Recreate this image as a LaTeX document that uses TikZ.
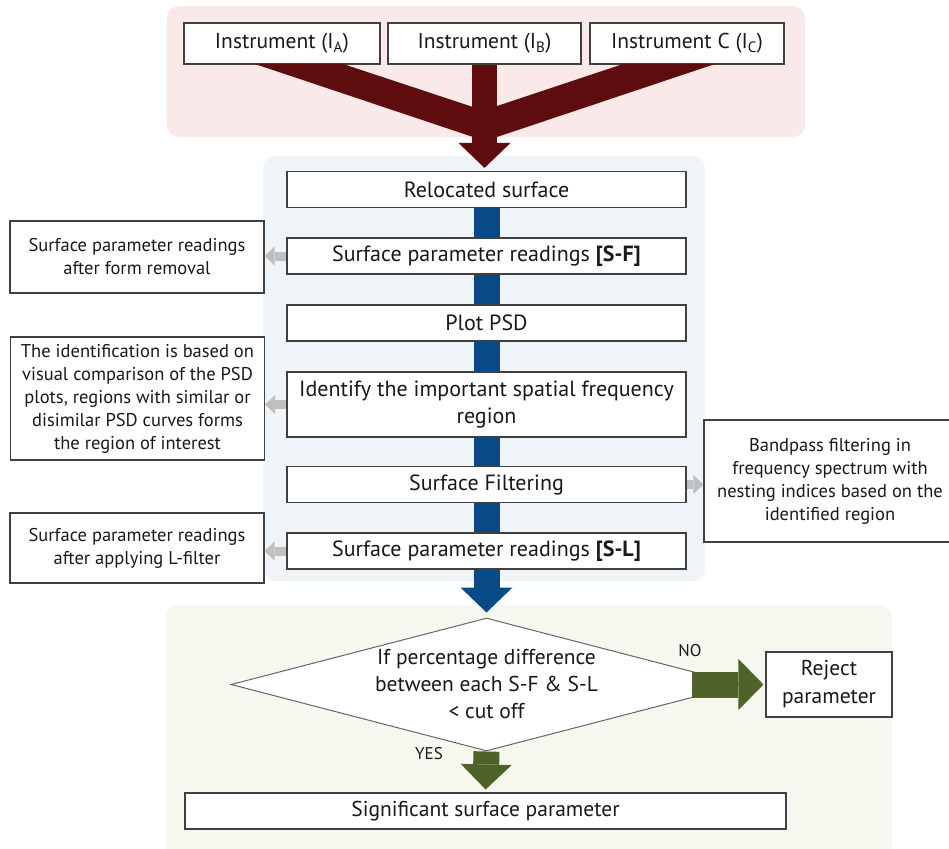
\documentclass[tikz,border=0pt]{standalone}
\usepackage{fontspec}
\setmainfont{PT Sans}
\usetikzlibrary{positioning,calc,arrows.meta,shapes.geometric}

\begin{document}
\begin{tikzpicture}[x=1pt,y=-1pt]
	\definecolor{redarr}{RGB}{94,12,14}
	\definecolor{bluearr}{RGB}{8,74,134}
	\definecolor{greenarr}{RGB}{79,98,40}
	\definecolor{pinkbg}{RGB}{250,233,233}
	\definecolor{bluebg}{RGB}{239,244,249}
	\definecolor{greenbg}{RGB}{246,247,239}
	\definecolor{boxline}{RGB}{64,64,64}
	\definecolor{hintarr}{RGB}{191,191,191}
	\tikzset{
		box/.style={
			draw=boxline,
			line width=1.1pt,
			fill=white,
			inner sep=0pt,
			align=center,
			text=black!90,
			font=\fontsize{21.5}{27}\selectfont
		},
		mainbox/.style={box, minimum width=399, minimum height=36, font=\fontsize{22}{27}\selectfont},
		note/.style={box, minimum width=254, font=\fontsize{18.5}{23}\selectfont},
		decision/.style={
			diamond,
			draw=boxline!80,
			line width=1pt,
			fill=white,
			inner sep=0pt,
			minimum width=511,
			minimum height=133
		},
		panel/.style={rounded corners=12pt},
		blueshaft/.style={draw=bluearr, line width=26pt},
		bluearrow/.style={blueshaft, -{Triangle[width=52pt,length=25pt,line width=0pt]}},
		redarrow/.style={draw=redarr, line width=25pt, -{Triangle[width=52pt,length=25pt,line width=0pt]}},
		greenarrow/.style={draw=greenarr, line width=26pt, -{Triangle[width=51pt,length=25pt,line width=0pt]}},
		hint/.style={draw=hintarr, line width=9pt, -{Triangle[width=19pt,length=10pt,line width=0pt]}},
		tag/.style={font=\fontsize{17}{20}\selectfont, text=black!90}
	}
	\useasboundingbox (0,0) rectangle (949,848);
	
	% ======= background panels =======
	\fill[pinkbg, panel] (167,6) rectangle (805,137);
	\fill[bluebg, panel] (263,156) rectangle (705,581);
	\fill[greenbg, panel] (166,605) rectangle (892,880);
	
	% ======= instruments =======
	\node[box, minimum width=196, minimum height=41] (iA) at (282,43.5) {Instrument (I\textsubscript{A})};
	\node[box, minimum width=193, minimum height=41] (iB) at (484.5,43.5) {Instrument (I\textsubscript{B})};
	\node[box, minimum width=194, minimum height=41] (iC) at (687,43.5) {Instrument C (I\textsubscript{C})};
	
	\fill[redarr] (255,64) -- (343,64) -- (485,111) -- (485,141) -- cycle;
	\fill[redarr] (623,64) -- (715,64) -- (485,141) -- (485,110) -- cycle;
	
	% ======= main column =======
	\node[mainbox] (reloc) at (486.5,189.5) {Relocated surface};
	\node[mainbox] (sf) at (486.5,256) {Surface parameter readings \textbf{[S-F]}};
	\node[mainbox] (psd) at (486.5,323) {Plot PSD};
	\node[mainbox, minimum height=65] (ident) at (486.5,404.5) {Identify the important spatial frequency\\region};
	\node[mainbox] (filt) at (486.5,484.5) {Surface Filtering};
	\node[mainbox] (sl) at (486.5,551) {Surface parameter readings \textbf{[S-L]}};
	
	\draw[redarrow, shorten >=3pt] (iB.south) -- (iB.south |- reloc.north);
	\foreach \a/\b in {reloc/sf, sf/psd, psd/ident, ident/filt, filt/sl}
		\draw[blueshaft] (\a.south) -- (\b.north);
	
	% ======= side notes =======
	\node[note, minimum height=72] (nsf) at (137,257) {Surface parameter readings\\after form removal};
	\node[note, minimum height=123] (nid) at (137.5,398.5) {The identification is based on\\visual comparison of the PSD\\plots, regions with similar or\\disimilar PSD curves forms\\the region of interest};
	\node[note, minimum height=70] (nsl) at (137,548) {Surface parameter readings\\after applying L-filter};
	\node[note, minimum height=122, minimum width=252] (nbp) at (830,481) {Bandpass filtering in\\frequency spectrum with\\nesting indices based on the\\identified region};
	
	\draw[hint] (sf.west) -- (sf.west -| nsf.east);
	\draw[hint] (ident.west) -- (ident.west -| nid.east);
	\draw[hint] (sl.west) -- (sl.west -| nsl.east);
	\draw[hint] (filt.east) -- (filt.east -| nbp.west);
	
	% ======= decision =======
	\node[decision] (dia) at (486.5,684.5) {};
	\node[box, draw=none, fill=none] (diatext) at (dia.center) {If percentage difference\\between each S-F \& S-L\\< cut off};
	\node[box, minimum width=126, minimum height=65, font=\fontsize{21.5}{28}\selectfont] (rej) at (829,684.5) {Reject\\parameter};
	\node[box, minimum width=601, minimum height=36] (sig) at (485.5,811) {Significant surface parameter};
	
	\draw[bluearrow, shorten >=5pt] (sl.south) -- (dia.north);
	\draw[greenarrow, shorten >=3pt] (dia.south) -- (sig.north);
	\draw[greenarrow, shorten >=2pt] ([xshift=-51pt]dia.east) -- (rej.west);
	
	\node[tag] (no) at (690,651) {NO};
	\node[tag] (yes) at (429,754) {YES};
\end{tikzpicture}
\end{document}
